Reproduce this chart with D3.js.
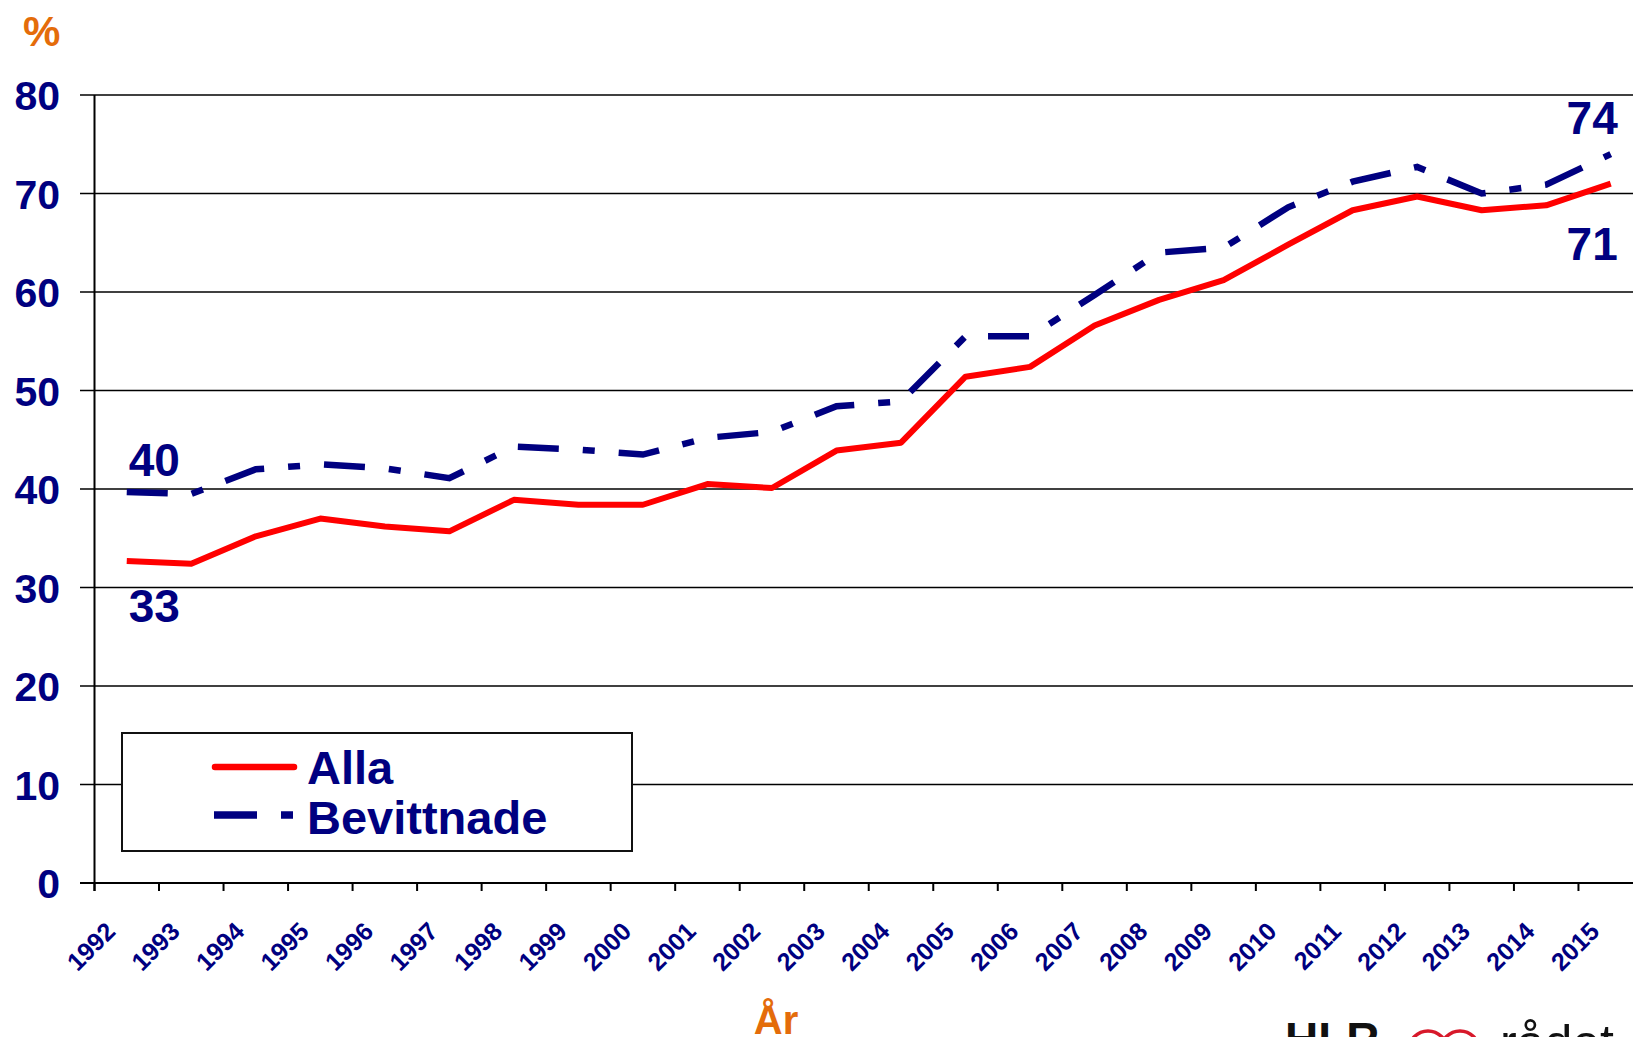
<!DOCTYPE html>
<html>
<head>
<meta charset="utf-8">
<script src="https://cdn.jsdelivr.net/npm/d3@7"></script>
<style>
	body { margin: 0; background: #fff; }
	svg { display: block; font-family: "Liberation Sans", Arial, sans-serif; font-weight: bold; }
</style>
</head>
<body>
<svg id="chart"></svg>
<script>
let years = ["1992","1993","1994","1995","1996","1997","1998","1999","2000","2001","2002","2003",
	"2004","2005","2006","2007","2008","2009","2010","2011","2012","2013","2014","2015"];
let alla = [32.7, 32.4, 35.2, 37.0, 36.2, 35.7, 38.9, 38.4, 38.4, 40.5, 40.1, 43.9,
	44.7, 51.4, 52.4, 56.6, 59.2, 61.2, 64.8, 68.3, 69.7, 68.3, 68.8, 71.0];
let bevittnade = [39.7, 39.5, 42.0, 42.5, 42.1, 41.1, 44.3, 44.0, 43.5, 45.2, 45.8, 48.4,
	48.9, 55.5, 55.5, 59.7, 64.0, 64.5, 68.6, 71.2, 72.7, 70.0, 70.9, 74.0];
let yTicks = [0, 10, 20, 30, 40, 50, 60, 70, 80];
let seriesNames = ["Alla", "Bevittnade"];
let endLabels = [["40", "33"], ["74", "71"]];

let navy = "#000080", red = "#ff0000", orange = "#e46c0a";

let svg = d3.select("#chart")
	.attr("width", 1633)
	.attr("height", 1037);

let x = d3.scaleBand()
	.domain(years)
	.range([94.5, 94.5 + 24 * 64.52])
	.padding(0);
let cx = (d) => x(d) + x.bandwidth() / 2;

let y = d3.scaleLinear()
	.domain([0, 80])
	.range([883, 95]);

// gridlines and y labels
svg.append("g").selectAll("line")
	.data(yTicks)
	.enter().append("line")
	.attr("x1", 80)
	.attr("x2", 1633)
	.attr("y1", (d) => y(d))
	.attr("y2", (d) => y(d))
	.style("stroke", "#000")
	.style("stroke-width", (d) => d == 0 ? 2.2 : 1.6);

svg.append("g").selectAll("text")
	.data(yTicks)
	.enter().append("text")
	.attr("x", 60)
	.attr("y", (d) => y(d) + 15)
	.attr("text-anchor", "end")
	.style("font-size", "41px")
	.style("fill", navy)
	.text((d) => d);

// y axis line
svg.append("line")
	.attr("x1", 94.5).attr("x2", 94.5)
	.attr("y1", y(80)).attr("y2", y(0) + 8)
	.style("stroke", "#000")
	.style("stroke-width", 2);

// x ticks sit on the band edges
svg.append("g").selectAll("line")
	.data(years)
	.enter().append("line")
	.attr("x1", (d) => x(d))
	.attr("x2", (d) => x(d))
	.attr("y1", y(0))
	.attr("y2", y(0) + 8)
	.style("stroke", "#000")
	.style("stroke-width", 2);

svg.append("g").selectAll("text")
	.data(years)
	.enter().append("text")
	.attr("transform", (d) => "translate(" + (cx(d) - 10) + "," + (y(0) + 50) + ") rotate(-45)")
	.attr("text-anchor", "end")
	.style("font-size", "25px")
	.style("fill", navy)
	.text((d) => d);

// axis titles
svg.append("text")
	.attr("x", 23).attr("y", 46)
	.style("font-size", "42px")
	.style("fill", orange)
	.text("%");

svg.append("text")
	.attr("x", 776).attr("y", 1034)
	.attr("text-anchor", "middle")
	.style("font-size", "40px")
	.style("fill", orange)
	.text("År");

// lines
let line = d3.line()
	.x((d, i) => cx(years[i]))
	.y((d) => y(d));

svg.append("path")
	.datum(alla)
	.attr("d", line)
	.style("fill", "none")
	.style("stroke", red)
	.style("stroke-width", 6)
	.style("stroke-linejoin", "round");

svg.append("path")
	.datum(bevittnade)
	.attr("d", line)
	.style("fill", "none")
	.style("stroke", navy)
	.style("stroke-width", 6.5)
	.style("stroke-dasharray", "41 24 12 24");

// end value labels
let first = years[0], last = years[years.length - 1];
svg.append("text")
	.attr("x", cx(first) + 2).attr("y", y(bevittnade[0]) - 16)
	.style("font-size", "46px").style("fill", navy)
	.text(endLabels[0][0]);
svg.append("text")
	.attr("x", cx(first) + 2).attr("y", y(alla[0]) + 61)
	.style("font-size", "46px").style("fill", navy)
	.text(endLabels[0][1]);
svg.append("text")
	.attr("x", cx(last) + 7).attr("y", y(bevittnade[23]) - 20)
	.attr("text-anchor", "end")
	.style("font-size", "46px").style("fill", navy)
	.text(endLabels[1][0]);
svg.append("text")
	.attr("x", cx(last) + 7).attr("y", y(alla[23]) + 76)
	.attr("text-anchor", "end")
	.style("font-size", "46px").style("fill", navy)
	.text(endLabels[1][1]);

// legend
let legend = svg.append("g");
legend.append("rect")
	.attr("x", 122).attr("y", 733)
	.attr("width", 510).attr("height", 118)
	.style("fill", "#fff")
	.style("stroke", "#111")
	.style("stroke-width", 2);
legend.append("line")
	.attr("x1", 215).attr("x2", 294)
	.attr("y1", 767).attr("y2", 767)
	.style("stroke", red)
	.style("stroke-width", 6.5)
	.style("stroke-linecap", "round");
legend.append("line")
	.attr("x1", 214).attr("x2", 293)
	.attr("y1", 815).attr("y2", 815)
	.style("stroke", navy)
	.style("stroke-width", 7.5)
	.style("stroke-dasharray", "43 24 12 24");
legend.selectAll("text")
	.data(seriesNames)
	.enter().append("text")
	.attr("x", 307)
	.attr("y", (d, i) => 784 + i * 50)
	.style("font-size", "47px")
	.style("fill", navy)
	.text((d) => d);

// logo, cut off at the bottom edge
let logo = svg.append("g");
logo.append("text")
	.attr("x", 1285).attr("y", 1055)
	.style("font-size", "46px").style("fill", "#111")
	.text("HLR");
logo.selectAll("circle")
	.data([1428, 1460])
	.enter().append("circle")
	.attr("cx", (d) => d).attr("cy", 1050)
	.attr("r", 19)
	.style("fill", "none")
	.style("stroke", "#d7182a")
	.style("stroke-width", 3.5);
logo.append("text")
	.attr("x", 1500).attr("y", 1060)
	.style("font-size", "50px").style("font-weight", "normal").style("fill", "#111")
	.text("rådet");
</script>
</body>
</html>
